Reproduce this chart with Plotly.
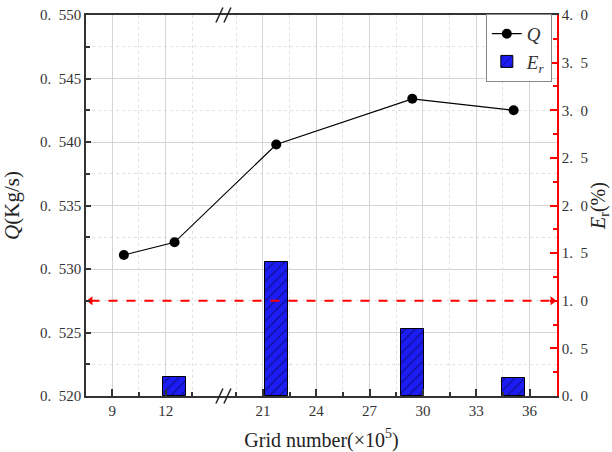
import plotly.graph_objects as go

# ---- data ----
grid_x = [9.65, 12.5, 21.75, 29.4, 35.1]          # grid number (x10^5)
q_values = [0.5311, 0.5321, 0.5398, 0.5434, 0.5425]  # Q (kg/s)
er_x = [12.5, 21.75, 29.4, 35.1]
er_values = [0.20, 1.41, 0.70, 0.19]                # Er (%)
threshold = 1.0
x_ticks = [9, 12, 21, 24, 27, 30, 33, 36]
x_minor = [10.5, 13.5, 19.5, 22.5, 25.5, 28.5, 31.5, 34.5]
q_ticks = [0.520, 0.525, 0.530, 0.535, 0.540, 0.545, 0.550]
er_ticks = [0.0, 0.5, 1.0, 1.5, 2.0, 2.5, 3.0, 3.5, 4.0]

# broken x axis: values above the break are shifted left
SHIFT = 3.53
BREAK_LO, BREAK_HI = 12, 21
X_RANGE = [7.52, 34.01]


def disp(v):
    return v if v <= (BREAK_LO + BREAK_HI) / 2 else v - SHIFT


FONT = "Liberation Serif"
AXC = "#333333"
NB = "\u2002"

fig = go.Figure()

fig.add_trace(go.Bar(
    x=[disp(v) for v in er_x], y=er_values, width=1.29, yaxis="y2",
    name="<i>E<sub>r</sub></i>",
    marker=dict(color="#1c1cf5", line=dict(color="black", width=1),
                pattern=dict(shape="/", fgcolor="black", size=7, solidity=0.15)),
))
fig.add_trace(go.Scatter(
    x=[disp(v) for v in grid_x], y=q_values, mode="lines+markers",
    name="<i>Q</i>", line=dict(color="black", width=1.2),
    marker=dict(color="black", size=10),
))
# red dashed threshold line across the plot, with arrow heads at its ends
fig.add_trace(go.Scatter(
    x=[X_RANGE[0] + 0.25, X_RANGE[1] - 0.25], y=[threshold, threshold],
    yaxis="y2", mode="lines+markers", showlegend=False, cliponaxis=False,
    line=dict(color="red", width=2, dash="dash"),
    marker=dict(symbol=["triangle-left", "triangle-right"], size=8, color="red"),
))

fig.update_layout(
    width=612, height=452,
    margin=dict(l=86, r=55, t=15, b=56),
    paper_bgcolor="white", plot_bgcolor="white",
    font=dict(family=FONT, size=15, color="#333"),
    showlegend=True,
    legend=dict(x=0.989, xanchor="right", y=1.003, yanchor="top",
                bordercolor="#888", borderwidth=1, bgcolor="white",
                font=dict(size=19), traceorder="reversed",
                tracegroupgap=0, itemwidth=30),
    xaxis=dict(
        range=X_RANGE, automargin=False,
        tickmode="array", tickvals=[disp(v) for v in x_ticks],
        ticktext=[str(v) for v in x_ticks],
        ticks="inside", ticklen=7, tickwidth=1.5, tickcolor=AXC,
        showline=True, linecolor=AXC, linewidth=1.5, mirror=True,
        showgrid=True, gridcolor="#d4d4d4", gridwidth=1,
        zeroline=False,
        minor=dict(tickmode="array", tickvals=[disp(v) for v in x_minor],
                   ticks="inside", ticklen=4, tickcolor=AXC,
                   showgrid=True, gridcolor="#e2e2e2", griddash="dot"),
        title=dict(text="Grid number(×10<sup>5</sup>)", font=dict(size=20, color="#222")),
    ),
    yaxis=dict(
        range=[0.520, 0.550], automargin=False,
        tickmode="array", tickvals=q_ticks,
        ticktext=["0." + NB + "%03d" % round(v * 1000) for v in q_ticks],
        ticks="inside", ticklen=5, tickwidth=1.5, tickcolor=AXC,
        showline=True, linecolor=AXC, linewidth=1.5,
        showgrid=True, gridcolor="#d4d4d4", gridwidth=1, zeroline=False,
        minor=dict(dtick=0.0025, ticks="inside", ticklen=4, tickcolor=AXC,
                   showgrid=True, gridcolor="#e2e2e2", griddash="dot"),
        title=dict(text="<i>Q</i>(Kg/s)", font=dict(size=21, color="#222")),
    ),
    yaxis2=dict(
        overlaying="y", side="right", range=[0, 4.0], automargin=False,
        tickmode="array", tickvals=er_ticks,
        ticktext=["%d.%s%d" % (int(v), NB, round((v % 1) * 10)) for v in er_ticks],
        ticks="inside", ticklen=7, tickwidth=1.5, tickcolor="red",
        showline=True, linecolor="red", linewidth=1.5,
        showgrid=False, zeroline=False,
        minor=dict(dtick=0.25, ticks="inside", ticklen=4, tickcolor="red"),
        title=dict(text="<i>E</i><sub>r</sub>(%)", font=dict(size=20, color="#222")),
    ),
    bargap=0,
)

# axis break marks (//) on top and bottom axes
bx = 15.25
for yp in (0, 1):
    for dx in (-4, 4):
        fig.add_shape(type="line", xref="x", yref="paper",
                      xsizemode="pixel", ysizemode="pixel",
                      xanchor=bx, yanchor=yp,
                      x0=dx - 3.5, x1=dx + 3.5, y0=-7.5, y1=7.5,
                      line=dict(color="#222", width=1.5))

fig.write_html("out.html")
